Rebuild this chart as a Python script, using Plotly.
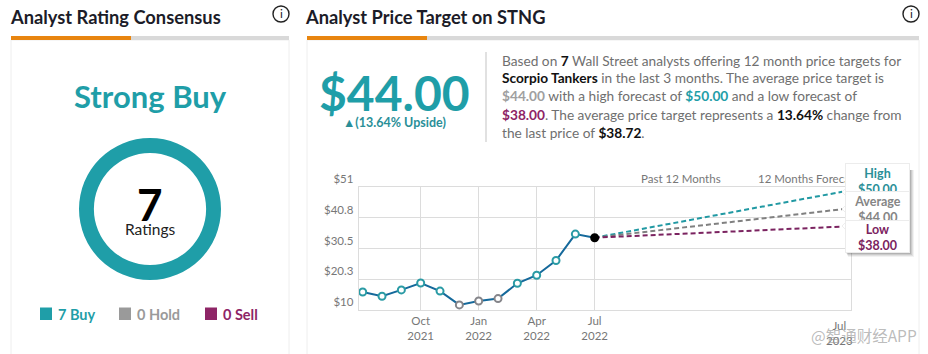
import plotly.graph_objects as go

W, H = 928, 354
FONT = "Lato"
TEAL, GRAY, PURPLE = "#1f9ea8", "#9a9a9a", "#8e2566"

# --- data ---
rating_labels = ["Buy", "Hold", "Sell"]
rating_counts = [7, 0, 0]
rating_colors = [TEAL, GRAY, PURPLE]

month_index = [0, 1, 2, 3, 4, 5, 6, 7, 8, 9, 10, 11, 12]
price_values = [16.1, 14.7, 16.8, 19.1, 16.4, 11.8, 13.1, 13.9, 19.0, 21.7, 26.6, 35.4, 34.2]
marker_edges = ["#2a9ba5"] * 5 + ["#85858a"] * 3 + ["#2a9ba5"] * 4 + ["#000000"]

forecast_x = [12, 24.8]
forecast_high = [34.2, 49.5]
forecast_avg = [34.2, 43.7]
forecast_low = [34.2, 37.9]

y_ticks = [10, 20.3, 30.5, 40.8, 51]
y_labels = ["$10", "$20.3", "$30.5", "$40.8", "$51"]
x_ticks = [3, 6, 9, 12]
x_labels = ["Oct<br>2021", "Jan<br>2022", "Apr<br>2022", "Jul<br>2022"]


def fx(p):
    return p / W


def fy(p):
    return 1 - p / H


fig = go.Figure()

fig.add_trace(go.Pie(
    labels=rating_labels, values=rating_counts, hole=0.79, sort=False,
    marker=dict(colors=rating_colors, line=dict(width=0)),
    textinfo="none", showlegend=False, hoverinfo="skip",
    domain=dict(x=[fx(79), fx(221)], y=[fy(280), fy(138)]),
))

for ys, col in ((forecast_high, "#2199a3"), (forecast_avg, "#808080"), (forecast_low, "#7b2360")):
    fig.add_trace(go.Scatter(
        x=forecast_x, y=ys, mode="lines", showlegend=False, hoverinfo="skip",
        line=dict(color=col, width=2, dash="5px,3px"),
    ))

fig.add_trace(go.Scatter(
    x=month_index, y=price_values, mode="lines+markers", showlegend=False, hoverinfo="skip",
    line=dict(color="#15699b", width=2),
    marker=dict(size=7, color=["#ffffff"] * 12 + ["#000000"], line=dict(color=marker_edges, width=2)),
    cliponaxis=False,
))

shapes = []


def rect(x0, y0, x1, y1, fill, line=None, **kw):
    shapes.append(dict(
        type="rect", xref="paper", yref="paper", x0=fx(x0), x1=fx(x1), y0=fy(y0), y1=fy(y1),
        fillcolor=fill, line=dict(color=line or fill, width=1 if line else 0), **kw))


# panels
rect(11, 40, 289, 360, "#ffffff", "#eeeeee", layer="below")
rect(307, 40, 919, 360, "#ffffff", "#eeeeee", layer="below")
rect(11, 36, 289, 40, "#d9d9d9", layer="below")
rect(11, 36, 131, 40, "#e8850f", layer="below")
rect(307, 36, 919, 40, "#d9d9d9", layer="below")
rect(307, 36, 427, 40, "#e8850f", layer="below")
rect(485.5, 52, 486.5, 142, "#c4c4c4", layer="below")

# info icons
for cx in (281, 911):
    shapes.append(dict(type="circle", xref="paper", yref="paper",
                       x0=fx(cx - 8), x1=fx(cx + 8), y0=fy(22), y1=fy(6),
                       fillcolor="rgba(0,0,0,0)", line=dict(color="#222222", width=1.4)))

# legend squares
for x0, col in zip((40, 119, 205), rating_colors):
    rect(x0, 307.5, x0 + 12, 320, col)

# callout shadow
for off, op in ((4, 0.05), (3, 0.07), (2, 0.09), (1, 0.12)):
    rect(846 + off / 2, 170, 910 + off, 253 + off, f"rgba(0,0,0,{op})")

# callout notches
for cy in (192, 209, 226):
    shapes.append(dict(type="path", xref="paper", yref="paper",
                       path=f"M {fx(846)} {fy(cy - 4)} L {fx(842)} {fy(cy)} L {fx(846)} {fy(cy + 4)} Z",
                       fillcolor="#ffffff", line=dict(color="#eeeeee", width=1)))

ann = []


def text(x, y, s, size, color, anchor="left", bold=False, family=FONT):
    ann.append(dict(
        xref="paper", yref="paper", x=fx(x), y=fy(y), xanchor=anchor, yanchor="middle",
        text=f"<b>{s}</b>" if bold else s, showarrow=False, borderpad=0,
        font=dict(family=family, size=size, color=color)))


text(9, 17, "Analyst Rating Consensus", 18.3, "#1c1c28", bold=True)
text(304, 17, "Analyst Price Target on STNG", 18.3, "#1c1c28", bold=True)
text(281, 14, "i", 12, "#222222", "center")
text(911, 14, "i", 12, "#222222", "center")

text(150, 96, "Strong Buy", 31, TEAL, "center", True)
text(150, 204, str(sum(rating_counts)), 44, "#000000", "center", True)
text(150, 229, "Ratings", 15.5, "#222222", "center")
for x0, lab, n, col in zip((57, 136, 222), rating_labels, rating_counts, rating_colors):
    text(x0, 314, f"{n} {lab}", 14.5, col, bold=True)

text(394.5, 93, "$44.00", 48, TEAL, "center", True)
text(394.5, 122, "▲(13.64% Upside)", 12.5, "#2a8f98", "center", True)

body_lines = [
    (60, "Based on <b style='color:#111'>7</b> Wall Street analysts offering 12 month price targets for"),
    (78, "<b style='color:#111'>Scorpio Tankers</b> in the last 3 months. The average price target is"),
    (96, f"<b style='color:#a0a0a0'>$44.00</b> with a high forecast of <b style='color:{TEAL}'>$50.00</b> and a low forecast of"),
    (114, f"<b style='color:{PURPLE}'>$38.00</b>. The average price target represents a <b style='color:#111'>13.64%</b> change from"),
    (132, "the last price of <b style='color:#111'>$38.72</b>."),
]
for y, s in body_lines:
    ann.append(dict(xref="paper", yref="paper", x=fx(501), y=fy(y), xanchor="left", yanchor="middle",
                    text=s, showarrow=False, borderpad=0,
                    font=dict(family=FONT, size=13.7, color="#6f6f6f")))

text(681, 178, "Past 12 Months", 11.5, "#777777", "center")
text(757, 178, "12 Months Forecast", 11.5, "#777777")

# Jul 2023 label sits near the forecast end, without a gridline
ann.append(dict(xref="paper", yref="paper", x=fx(839), y=fy(333), xanchor="center", yanchor="middle",
                text="Jul<br>2023", showarrow=False, borderpad=0,
                font=dict(family=FONT, size=11.5, color="#777777")))


def callout(top, height, head, value, color, pad=2, width=59):
    ann.append(dict(
        xref="paper", yref="paper", x=fx(845), y=fy(top), xanchor="left", yanchor="top",
        width=width, height=height, align="center", valign="top", borderpad=pad,
        bgcolor="#ffffff", bordercolor="#ececec", borderwidth=1, showarrow=False,
        text=f"<b>{head}<br>{value}</b>", font=dict(family=FONT, size=12.5, color=color)))


callout(163, 27, "High", "$50.00", "#2a8f98")
callout(191, 27, "Average", "$44.00", "#858585")
callout(220, 29, "Low", "$38.00", "#7b2360", pad=1, width=61)

text(864, 335, "@智通财经APP", 15.5, "rgba(150,150,150,0.65)", "center", family="Noto Sans CJK SC")

GRID = "#dcdcdc"
fig.update_layout(
    width=W, height=H, margin=dict(l=0, r=0, t=0, b=0, pad=0), autosize=False,
    paper_bgcolor="#ffffff", plot_bgcolor="#ffffff", showlegend=False,
    font=dict(family=FONT),
    shapes=shapes, annotations=ann,
    xaxis=dict(
        domain=[fx(358.7), fx(851)], range=[-0.207, 25.26], tickmode="array", automargin=False,
        tickvals=x_ticks, ticktext=x_labels, showgrid=True, gridcolor=GRID, gridwidth=1,
        zeroline=False, showline=True, linecolor=GRID, mirror=True, ticks="",
        tickfont=dict(family=FONT, size=11.5, color="#777777"),
    ),
    yaxis=dict(
        domain=[fy(310.3), fy(187.3)], range=[10, 51], tickmode="array", automargin=False,
        tickvals=y_ticks, ticktext=y_labels, showgrid=True, gridcolor=GRID, gridwidth=1,
        zeroline=False, showline=True, linecolor=GRID, mirror=True, ticks="",
        ticklabelposition="outside top", ticklabelstandoff=2,
        tickfont=dict(family=FONT, size=11.5, color="#777777"),
    ),
)

fig.write_html("out.html", post_script="document.body.style.margin='0';", config=dict(displayModeBar=False))
